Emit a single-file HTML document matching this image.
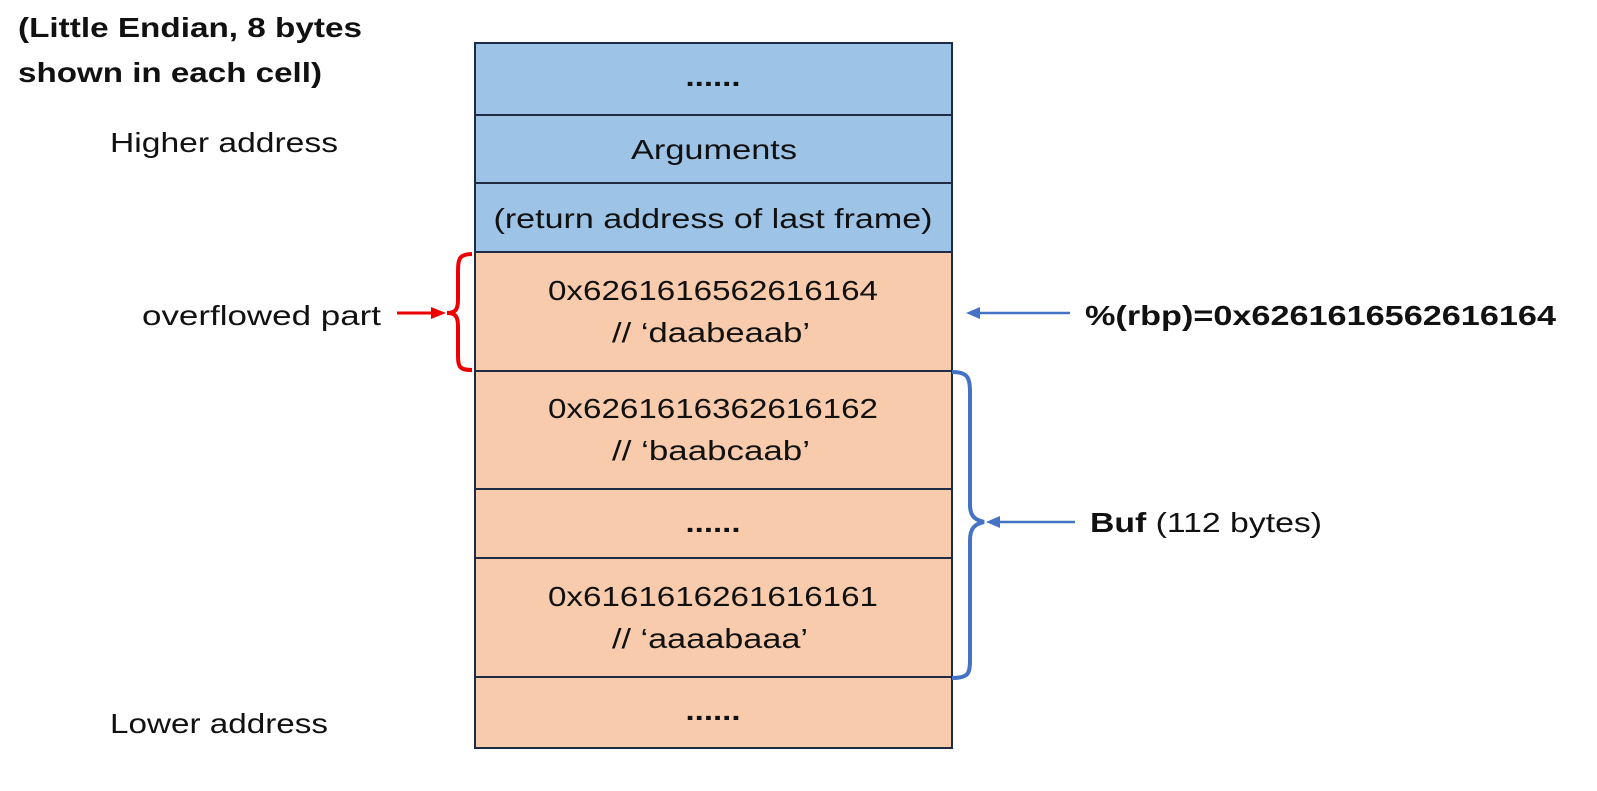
<!DOCTYPE html>
<html><head><style>html,body{margin:0;padding:0;background:#fff;overflow:hidden}svg{display:block}</style></head><body>
<svg width="1597" height="791" xmlns="http://www.w3.org/2000/svg" font-family="Liberation Sans, sans-serif">
<g stroke="#1f2a44" stroke-width="2">
<rect x="475" y="43" width="477" height="72" fill="#9dc3e6"/>
<rect x="475" y="115" width="477" height="68" fill="#9dc3e6"/>
<rect x="475" y="183" width="477" height="69" fill="#9dc3e6"/>
<rect x="475" y="252" width="477" height="119" fill="#f8cbad"/>
<rect x="475" y="371" width="477" height="118" fill="#f8cbad"/>
<rect x="475" y="489" width="477" height="69" fill="#f8cbad"/>
<rect x="475" y="558" width="477" height="119" fill="#f8cbad"/>
<rect x="475" y="677" width="477" height="71" fill="#f8cbad"/>
</g>
<g font-size="28" text-anchor="middle" fill="#111">
<text x="713" y="86" font-weight="bold" textLength="55" lengthAdjust="spacingAndGlyphs">......</text>
<text x="714" y="159" textLength="166" lengthAdjust="spacingAndGlyphs">Arguments</text>
<text x="713" y="228" textLength="439" lengthAdjust="spacingAndGlyphs">(return address of last frame)</text>
<text x="713" y="300" textLength="330" lengthAdjust="spacingAndGlyphs">0x6261616562616164</text>
<text x="711" y="342" textLength="198" lengthAdjust="spacingAndGlyphs">// ‘daabeaab’</text>
<text x="713" y="418" textLength="330" lengthAdjust="spacingAndGlyphs">0x6261616362616162</text>
<text x="711" y="460" textLength="198" lengthAdjust="spacingAndGlyphs">// ‘baabcaab’</text>
<text x="713" y="532" font-weight="bold" textLength="55" lengthAdjust="spacingAndGlyphs">......</text>
<text x="713" y="606" textLength="330" lengthAdjust="spacingAndGlyphs">0x6161616261616161</text>
<text x="710" y="648" textLength="196" lengthAdjust="spacingAndGlyphs">// ‘aaaabaaa’</text>
<text x="713" y="720" font-weight="bold" textLength="55" lengthAdjust="spacingAndGlyphs">......</text>
</g>
<g font-size="28" fill="#111">
<text x="18" y="37" font-weight="bold" textLength="344" lengthAdjust="spacingAndGlyphs">(Little Endian, 8 bytes</text>
<text x="18" y="82" font-weight="bold" textLength="304" lengthAdjust="spacingAndGlyphs">shown in each cell)</text>
<text x="110" y="152" textLength="228" lengthAdjust="spacingAndGlyphs">Higher address</text>
<text x="142" y="325" textLength="239" lengthAdjust="spacingAndGlyphs">overflowed part</text>
<text x="110" y="733" textLength="218" lengthAdjust="spacingAndGlyphs">Lower address</text>
<text x="1085" y="325" font-weight="bold" textLength="471" lengthAdjust="spacingAndGlyphs">%(rbp)=0x6261616562616164</text>
<text x="1090" y="532" textLength="232" lengthAdjust="spacingAndGlyphs"><tspan font-weight="bold">Buf</tspan> (112 bytes)</text>
</g>
<path d="M472,254 C458,254 458,260 458,275 L458,300 C458,310 455,313 447,313 C455,313 458,316 458,326 L458,352 C458,366 458,370 472,370" fill="none" stroke="#e00" stroke-width="4"/>
<line x1="397" y1="313" x2="432" y2="313" stroke="#e00" stroke-width="3"/>
<polygon points="446,313 431,307 431,319" fill="#e00"/>
<path d="M952,372 C968,372 970,378 970,392 L970,505 C970,516 975,520 984,522 C975,524 970,528 970,540 L970,660 C970,674 968,678 952,678" fill="none" stroke="#4472c4" stroke-width="4"/>
<line x1="1075" y1="522" x2="998" y2="522" stroke="#4472c4" stroke-width="2.5"/>
<polygon points="986,522 1000,516 1000,528" fill="#4472c4"/>
<line x1="1070" y1="313" x2="978" y2="313" stroke="#4472c4" stroke-width="2.5"/>
<polygon points="966,313 980,307 980,319" fill="#4472c4"/>
</svg>
</body></html>
